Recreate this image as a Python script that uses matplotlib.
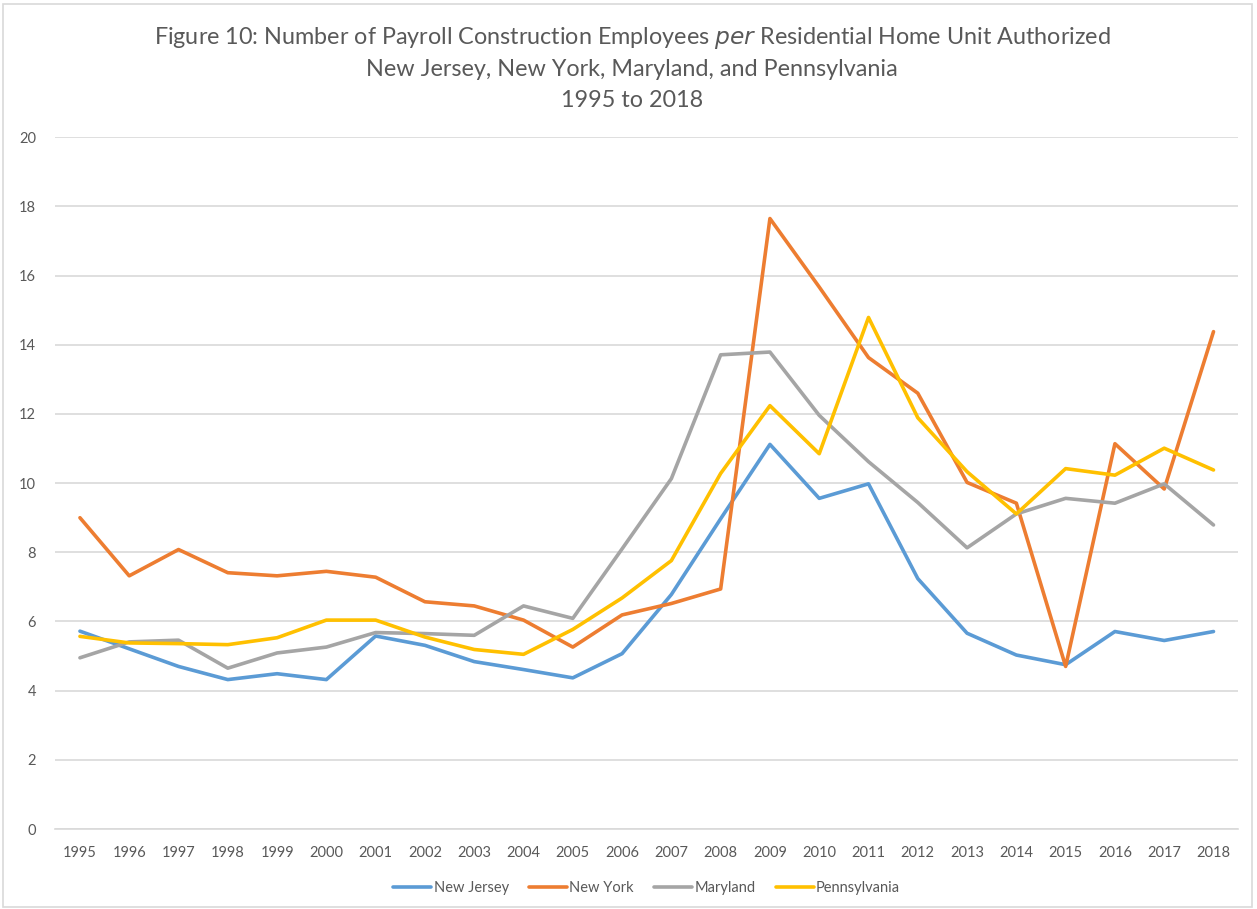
import matplotlib.pyplot as plt
from matplotlib.patches import Rectangle

years = [str(y) for y in range(1995, 2019)]

new_jersey = [5.72, 5.21, 4.70, 4.32, 4.49, 4.32, 5.58, 5.31, 4.84, 4.61, 4.37, 5.07,
              6.78, 8.97, 11.12, 9.56, 9.98, 7.24, 5.66, 5.03, 4.75, 5.71, 5.45, 5.71]
new_york = [9.00, 7.32, 8.08, 7.41, 7.32, 7.45, 7.28, 6.57, 6.45, 6.04, 5.26, 6.19,
            6.52, 6.94, 17.65, 15.67, 13.63, 12.60, 10.02, 9.42, 4.70, 11.14, 9.83, 14.38]
maryland = [4.95, 5.41, 5.46, 4.65, 5.09, 5.26, 5.68, 5.65, 5.60, 6.45, 6.09, 8.10,
            10.13, 13.71, 13.79, 11.96, 10.62, 9.44, 8.13, 9.11, 9.56, 9.42, 9.98, 8.79]
pennsylvania = [5.57, 5.38, 5.36, 5.33, 5.53, 6.04, 6.04, 5.55, 5.19, 5.05, 5.77, 6.68,
                7.76, 10.28, 12.24, 10.85, 14.79, 11.89, 10.33, 9.11, 10.42, 10.23, 11.01, 10.38]

series = [("New Jersey", new_jersey, "#5B9BD5"),
          ("New York", new_york, "#ED7D31"),
          ("Maryland", maryland, "#A5A5A5"),
          ("Pennsylvania", pennsylvania, "#FFC000")]

plt.rcParams['font.family'] = ['Lato', 'DejaVu Sans']
txt = "#595959"

fig = plt.figure(figsize=(12.57, 9.09), dpi=100)
fig.patches.append(Rectangle((0.002, 0.002), 0.994, 0.994, transform=fig.transFigure,
                             fill=False, edgecolor="#D9D9D9", linewidth=1.2))
ax = fig.add_axes([0.044, 0.088, 0.941, 0.761])

x = range(len(years))
for name, vals, col in series:
    ax.plot(x, vals, color=col, linewidth=2.6, label=name,
            solid_joinstyle='round', solid_capstyle='round')

ax.set_xlim(-0.5, len(years) - 0.5)
ax.set_ylim(0, 20)
ax.set_yticks(range(0, 21, 2))
ax.set_xticks(list(x))
ax.set_xticklabels(years)
ax.grid(axis='y', color="#D9D9D9", linewidth=1.2)
ax.set_axisbelow(True)
for s in ['top', 'right', 'left']:
    ax.spines[s].set_visible(False)
ax.spines['bottom'].set_color("#D9D9D9")
ax.spines['bottom'].set_linewidth(1.2)
ax.tick_params(length=0, labelsize=10.5, labelcolor=txt)
ax.tick_params(axis='y', pad=14)
ax.tick_params(axis='x', pad=12)

title_lines = ["Figure 10: Number of Payroll Construction Employees $\\it{per}$ Residential Home Unit Authorized",
               "New Jersey, New York, Maryland, and Pennsylvania",
               "1995 to 2018"]
for i, line in enumerate(title_lines):
    fig.text(0.503, 0.958 - i * 0.0345, line, ha='center', va='center', fontsize=16.8, color=txt)

leg = ax.legend(loc='center', bbox_to_anchor=(0.5, -0.085), ncol=4, frameon=False,
                fontsize=10.5, handlelength=2.6, handletextpad=0.15, columnspacing=1.4)
for t in leg.get_texts():
    t.set_color(txt)

fig.savefig("out.png", dpi=100)
